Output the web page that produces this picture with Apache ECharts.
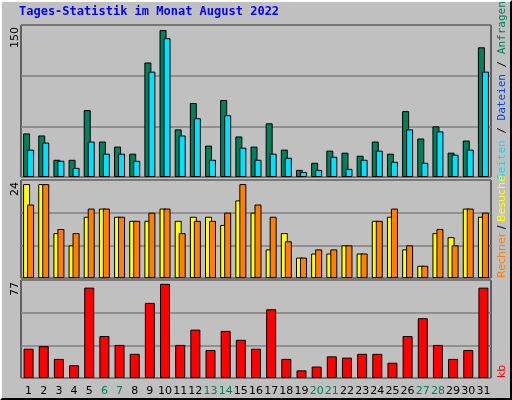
<!DOCTYPE html>
<html><head><meta charset="utf-8">
<script src="https://cdn.jsdelivr.net/npm/echarts@6/dist/echarts.min.js"></script>
<style>html,body{margin:0;padding:0;background:#c0c0c0}#c{width:512px;height:400px;box-sizing:border-box;border-top:2px solid #fff;border-left:2px solid #fff;border-right:2px solid #000;border-bottom:2px solid #000}</style>
</head><body><div id="c"></div>
<script>
const days = ['1','2','3','4','5','6','7','8','9','10','11','12','13','14','15','16','17','18','19','20','21','22','23','24','25','26','27','28','29','30','31'];
const weekend = ['6','7','13','14','20','21','27','28'];
const hits  = [43,41,17,17,66,35,30,23,113,145,47,73,31,76,40,30,53,27,7,14,26,24,21,35,23,65,38,50,24,36,128];
const files = [27,34,16,9,35,23,23,16,104,137,41,58,17,61,29,17,23,19,5,7,20,8,17,26,15,47,14,45,22,27,104];
const visits= [23,23,11,8,15,17,15,14,14,17,14,15,15,13,19,16,7,11,5,6,6,8,6,14,15,7,3,11,10,17,15];
const sites = [18,23,12,11,17,17,15,14,16,17,11,14,14,16,23,18,15,9,5,7,7,8,6,14,17,8,3,12,8,17,16];
const kb    = [23,25,15,10,71,33,26,19,59,74,26,38,22,37,30,23,54,15,6,9,17,16,19,19,12,33,47,26,15,22,71];
const maxTop=150, maxMid=24, maxBot=77;

const chart = echarts.init(document.getElementById('c'));
const gl = {left:19,right:19};
const grids=[{top:23,height:152},{top:178,height:98},{top:278,height:98}].map(g=>Object.assign({},gl,g,{show:true,backgroundColor:'#c0c0c0',borderColor:'#000',borderWidth:1}));
function xa(i,show){return {type:'category',gridIndex:i,data:days,axisLine:{show:false},axisTick:{show:false},
 axisLabel:{show:show,interval:0,margin:8,fontFamily:'DejaVu Sans',fontSize:11,
 formatter:v=>weekend.includes(v)?'{w|'+v+'}':'{n|'+v+'}',rich:{w:{color:'#00805c',fontSize:11,fontFamily:'DejaVu Sans'},n:{color:'#000',fontSize:11,fontFamily:'DejaVu Sans'}}}};}
function ya(i,max){return {type:'value',gridIndex:i,min:0,max:max,interval:max/3,axisLabel:{show:false},axisLine:{show:false},axisTick:{show:false},splitLine:{lineStyle:{color:'#808080',width:1.5}}};}
const bs={borderColor:'#000',borderWidth:1};
chart.setOption({
 animation:false,
 grid:grids,
 xAxis:[xa(0,false),xa(1,false),xa(2,true)],
 yAxis:[ya(0,maxTop),ya(1,maxMid),ya(2,maxBot)],
 series:[
  {type:'bar',xAxisIndex:0,yAxisIndex:0,data:hits,barWidth:7,barGap:'-43%',itemStyle:Object.assign({color:'#00805c'},bs)},
  {type:'bar',xAxisIndex:0,yAxisIndex:0,data:files,barWidth:7,itemStyle:Object.assign({color:'#00e0ff'},bs)},
  {type:'bar',xAxisIndex:1,yAxisIndex:1,data:visits,barWidth:7,barGap:'-43%',itemStyle:Object.assign({color:'#ffff00'},bs)},
  {type:'bar',xAxisIndex:1,yAxisIndex:1,data:sites,barWidth:7,itemStyle:Object.assign({color:'#ff8000'},bs)},
  {type:'bar',xAxisIndex:2,yAxisIndex:2,data:kb,barWidth:10,itemStyle:Object.assign({color:'#ff0000'},bs)}
 ],
 graphic:[
  {type:'text',left:17,top:4,style:{text:'Tages-Statistik im Monat August 2022',fill:'#0000ff',font:'bold 12px "DejaVu Sans Mono"'}},
  {type:'text',x:13,y:25,rotation:Math.PI/2,style:{text:String(maxTop),fill:'#000',font:'11px "DejaVu Sans"',align:'right',verticalAlign:'middle'}},
  {type:'text',x:13,y:180,rotation:Math.PI/2,style:{text:String(maxMid),fill:'#000',font:'11px "DejaVu Sans"',align:'right',verticalAlign:'middle'}},
  {type:'text',x:13,y:280,rotation:Math.PI/2,style:{text:String(maxBot),fill:'#000',font:'11px "DejaVu Sans"',align:'right',verticalAlign:'middle'}},
  {type:'text',x:500,y:178,rotation:Math.PI/2,style:{text:'{a|Seiten}{s| / }{b|Dateien}{s| / }{c|Anfragen}',align:'left',verticalAlign:'middle',font:'11px "DejaVu Sans Mono"',
    rich:{a:{fill:'#00e0ff',font:'11px "DejaVu Sans Mono"'},b:{fill:'#0040ff',font:'11px "DejaVu Sans Mono"'},c:{fill:'#00805c',font:'11px "DejaVu Sans Mono"'},s:{fill:'#000',font:'11px "DejaVu Sans Mono"'}}}},
  {type:'text',x:500,y:276,rotation:Math.PI/2,style:{text:'{a|Rechner}{s| / }{b|Besuche}',align:'left',verticalAlign:'middle',font:'11px "DejaVu Sans"',
    rich:{a:{fill:'#ff8000',font:'11px "DejaVu Sans"'},b:{fill:'#ffff00',font:'11px "DejaVu Sans"'},s:{fill:'#000',font:'11px "DejaVu Sans"'}}}},
  {type:'text',x:500,y:376,rotation:Math.PI/2,style:{text:'kb',fill:'#ff0000',font:'11px "DejaVu Sans"',align:'left',verticalAlign:'middle'}}
 ]
});
</script></body></html>
